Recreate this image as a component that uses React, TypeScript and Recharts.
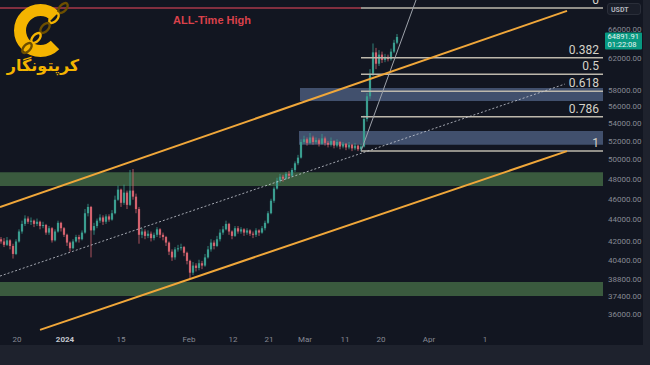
import React from "react";
import {
  ComposedChart,
  Bar,
  XAxis,
  YAxis,
  ReferenceArea,
  ReferenceLine,
  ReferenceDot,
} from "recharts";

// candles: one every 0.75 day, prices in thousands USDT
const START_DAY = -15.875;
const STEP = 0.75;
const FIRST_OPEN = 42.2;

const CLOSES = [
  42.0, 41.7, 42.1, 41.6, 40.9, 42.0, 42.9, 43.6, 44.1, 43.8,
  43.9, 43.6, 43.8, 43.4, 43.5, 42.8, 43.2, 42.1, 42.9, 43.7,
  43.2, 42.6, 41.9, 41.4, 42.0, 42.4, 42.2, 42.8, 44.6, 45.2,
  43.0, 43.4, 43.9, 44.2, 43.8, 44.3, 44.0, 44.6, 45.9, 46.9,
  45.6, 46.6, 45.4, 46.8, 46.2, 45.0, 42.6, 42.9, 42.5, 42.7,
  42.3, 42.6, 43.1, 42.6, 42.4, 41.9, 41.1, 40.6, 41.3, 41.4,
  41.5, 41.0, 40.3, 39.3, 39.9, 39.7, 40.1, 39.9, 40.6, 41.3,
  41.9, 41.6, 42.2, 42.8, 43.1, 43.6, 42.9, 42.5, 43.2, 42.9,
  43.1, 42.8, 43.0, 42.7, 42.6, 43.0, 42.8, 43.2, 43.7, 44.6,
  45.8, 47.0, 47.8, 48.2, 48.0, 48.5, 48.3, 48.9, 49.6, 50.2,
  51.9, 52.2, 51.8, 52.4, 51.9, 52.1, 51.7, 52.3, 51.8, 51.6,
  52.0, 51.5, 51.9, 51.4, 51.7, 51.3, 51.6, 51.2, 51.5, 51.1,
  51.4, 54.5, 57.2, 60.0, 62.8, 61.3, 62.5, 61.8, 62.2, 61.9,
  62.9, 64.1, 64.89191,
];

const HIGHS = [
  42.4, 42.3, 42.4, 42.2, 41.8, 42.2, 43.1, 43.9, 44.4, 44.3,
  44.2, 44.0, 44.1, 43.9, 43.8, 43.6, 43.4, 43.3, 43.1, 43.9,
  43.8, 43.3, 42.7, 42.0, 42.2, 42.6, 42.6, 43.0, 45.0, 45.5,
  45.3, 43.7, 44.1, 44.5, 44.4, 44.5, 44.5, 44.9, 46.3, 47.3,
  47.0, 47.4, 46.8, 48.9, 49.0, 46.5, 45.2, 43.2, 43.1, 43.0,
  42.9, 42.8, 43.3, 43.2, 42.8, 42.5, 42.0, 41.3, 41.5, 41.7,
  41.8, 41.6, 41.1, 40.4, 40.2, 40.1, 40.4, 40.3, 40.9, 41.6,
  42.2, 42.1, 42.5, 43.1, 43.4, 43.9, 43.7, 43.0, 43.4, 43.4,
  43.3, 43.2, 43.2, 43.1, 42.9, 43.2, 43.1, 43.4, 43.9, 44.8,
  46.0, 47.2, 48.1, 48.5, 48.4, 48.7, 48.8, 49.1, 49.8, 50.5,
  52.2, 52.6, 52.4, 52.9, 52.6, 52.4, 52.3, 52.8, 52.5, 52.0,
  52.4, 52.1, 52.2, 52.0, 51.9, 51.8, 51.9, 51.7, 51.8, 51.6,
  51.7, 54.9, 57.6, 60.6, 64.0, 63.4, 63.1, 62.9, 62.6, 62.5,
  63.3, 64.5, 65.3,
];

const LOWS = [
  41.8, 41.5, 41.6, 41.3, 40.5, 40.8, 41.9, 42.7, 43.4, 43.6,
  43.5, 43.3, 43.4, 43.1, 43.2, 42.6, 42.6, 41.9, 42.0, 42.8,
  42.9, 42.4, 41.6, 41.1, 41.3, 41.9, 41.9, 42.1, 42.7, 44.3,
  40.6, 42.6, 43.2, 43.7, 43.5, 43.6, 43.8, 43.9, 44.5, 45.8,
  45.2, 45.4, 45.0, 45.3, 45.9, 44.6, 41.8, 42.3, 42.2, 42.3,
  42.0, 42.1, 42.4, 42.3, 42.1, 41.6, 40.8, 40.3, 40.4, 41.1,
  41.2, 40.7, 40.0, 38.8, 39.1, 39.4, 39.5, 39.6, 39.8, 40.5,
  41.1, 41.3, 41.5, 42.0, 42.6, 43.0, 42.6, 42.2, 42.4, 42.7,
  42.7, 42.5, 42.6, 42.5, 42.3, 42.4, 42.5, 42.7, 43.0, 43.6,
  44.5, 45.6, 46.9, 47.6, 47.7, 47.9, 48.0, 48.2, 48.7, 49.4,
  50.1, 51.7, 51.5, 51.7, 51.6, 51.7, 51.4, 51.6, 51.5, 51.3,
  51.4, 51.2, 51.3, 51.1, 51.2, 51.0, 51.1, 50.9, 51.0, 50.9,
  50.9, 51.3, 54.2, 56.9, 59.7, 60.6, 61.0, 61.4, 61.5, 61.6,
  61.7, 62.7, 63.9,
];

const LAST_PRICE = 64891.91;
const COUNTDOWN = "01:22:08";

const Y_TICKS = [36000, 37400, 38800, 40400, 42000, 44000, 46000, 48000, 50000, 52000, 54000, 56000, 58000, 62000, 66000];
const X_TICKS = [-12, 0, 14, 31, 42, 51, 60, 70, 79, 91, 105];
const X_LABELS = ["20", "2024", "15", "Feb", "12", "21", "Mar", "11", "20", "Apr", "1"];

// fibonacci retracement
const FIB_HIGH = 69000;
const FIB_LOW = 50900;
const FIB_RATIOS = [0, 0.382, 0.5, 0.618, 0.786, 1];
const FIB_FROM = 74;
const FIB_TO = 134.5;

const ATH_FROM = -16.25;

// zones [fromDay, toDay, low, high]
const GREEN_ZONES = [
  [-16.25, 134.5, 47260, 48670],
  [-16.25, 134.5, 37395, 38525],
];
const BLUE_ZONES = [
  [58.75, 134.5, 56617, 58215],
  [58.5, 134.5, 51600, 53130],
];

// channel & trend lines [day, price] pairs
const UPPER_CHANNEL = [[-16.25, 45190], [125.5, 68600]];
const LOWER_CHANNEL = [[-6.25, 34800], [125.5, 50900]];
const MID_CHANNEL = [[-16.25, 39020], [125, 58710]];
const TREND_LINE = [[74, 50900], [87.75, 70200]];

const UP = "#3a9d8f";
const DOWN = "#d4626e";
const BG = "#121621";

const candles = CLOSES.map((c, i) => {
  const open = (i === 0 ? FIRST_OPEN : CLOSES[i - 1]) * 1000;
  const high = HIGHS[i] * 1000;
  const low = LOWS[i] * 1000;
  return {
    day: START_DAY + i * STEP,
    open,
    close: c * 1000,
    high,
    low,
    range: [low, high],
  };
});

const seg = (pts: number[][]) => pts.map(([x, y]) => ({ x, y }));

const Candle = (props: any) => {
  const { x, y, width, height, payload } = props;
  if (x == null || !payload) return null;
  const { open, close, high, low } = payload;
  const top = Math.min(y, y + height);
  const h = Math.abs(height);
  const span = Math.log(high) - Math.log(low) || 1;
  const toY = (v: number) => top + (h * (Math.log(high) - Math.log(v))) / span;
  const color = close >= open ? UP : DOWN;
  const cx = x + width / 2;
  const bodyTop = toY(Math.max(open, close));
  const bodyH = Math.max(1, toY(Math.min(open, close)) - bodyTop);
  return (
    <g>
      <line x1={cx} x2={cx} y1={top} y2={top + h} stroke={color} strokeWidth={0.8} />
      <rect x={cx - 1.1} y={bodyTop} width={2.2} height={bodyH} fill={color} />
    </g>
  );
};

const TimeTick = ({ x, y, payload }: any) => {
  const label = X_LABELS[X_TICKS.indexOf(payload.value)] ?? "";
  const strong = label === "2024";
  return (
    <text
      x={x}
      y={y}
      dy={7}
      textAnchor="middle"
      fontSize={8}
      fontWeight={strong ? 700 : 400}
      fill={strong ? "#c3c6ce" : "#868993"}
    >
      {label}
    </text>
  );
};

const PriceTag = ({ viewBox }: any) => {
  if (!viewBox) return null;
  const x = viewBox.x + viewBox.width;
  const y = viewBox.y;
  return (
    <g>
      <rect x={x} y={y - 4.5} width={37} height={17} rx={1} fill="#089981" />
      <text x={x + 2.5} y={y + 2.5} fontSize={7.5} fill="#e6f4f1">
        {LAST_PRICE.toFixed(2)}
      </text>
      <text x={x + 2.5} y={y + 10.5} fontSize={7.5} fill="#e6f4f1">
        {COUNTDOWN}
      </text>
    </g>
  );
};

export default function App() {
  const fibLevels = FIB_RATIOS.map((r) => ({
    ratio: r,
    price: FIB_HIGH - r * (FIB_HIGH - FIB_LOW),
  }));

  return (
    <div
      style={{
        position: "fixed",
        left: 0,
        top: 0,
        width: 650,
        height: 365,
        background: "#1e222d",
        fontFamily: "Roboto, sans-serif",
        overflow: "hidden",
      }}
    >
      <div style={{ position: "absolute", left: 0, top: 0, width: 643, height: 345, background: BG }}>
        <ComposedChart
          width={643}
          height={345}
          data={candles}
          margin={{ top: 0, right: 0, bottom: 0, left: 0 }}
        >
          <XAxis
            dataKey="day"
            type="number"
            domain={[-16.25, 135]}
            ticks={X_TICKS}
            tick={<TimeTick />}
            height={15}
            axisLine={false}
            tickLine={false}
            tickSize={0}
            tickMargin={5}
            allowDataOverflow
          />
          <YAxis
            orientation="right"
            scale="log"
            domain={[34790, 70200]}
            ticks={Y_TICKS}
            tickFormatter={(v: number) => v.toFixed(2)}
            tick={{ fontSize: 8, fill: "#868993" }}
            width={38}
            axisLine={false}
            tickLine={false}
            tickSize={0}
            tickMargin={3}
            allowDataOverflow
          />

          {GREEN_ZONES.map(([x1, x2, y1, y2], i) => (
            <ReferenceArea key={`g${i}`} x1={x1} x2={x2} y1={y1} y2={y2} fill="#3a5a3e" fillOpacity={1} stroke="none" ifOverflow="visible" />
          ))}
          {BLUE_ZONES.map(([x1, x2, y1, y2], i) => (
            <ReferenceArea key={`b${i}`} x1={x1} x2={x2} y1={y1} y2={y2} fill="#41506d" fillOpacity={1} stroke="none" ifOverflow="visible" />
          ))}

          <Bar dataKey="range" barSize={2} shape={(p: any) => <Candle {...p} />} isAnimationActive={false} />

          <ReferenceLine
            segment={seg([[ATH_FROM, FIB_HIGH], [FIB_FROM, FIB_HIGH]])}
            stroke="#a8394a"
            strokeWidth={1.5}
            ifOverflow="visible"
          />
          <ReferenceDot
            x={36.75}
            y={67275}
            r={0}
            fill="none"
            stroke="none"
            ifOverflow="visible"
            label={{ value: "ALL-Time High", position: "center", fill: "#d9414b", fontSize: 11, fontWeight: 700, fontFamily: "Liberation Sans, Arial" }}
          />

          {fibLevels.map((f) => (
            <ReferenceLine
              key={f.ratio}
              segment={seg([[FIB_FROM, f.price], [FIB_TO, f.price]])}
              stroke="#bdb8ac"
              strokeWidth={1.5}
              ifOverflow="visible"
              label={{ value: String(f.ratio), position: "insideBottomRight", offset: 4, fill: "#d6d3c9", fontSize: 12 }}
            />
          ))}

          <ReferenceLine segment={seg(MID_CHANNEL)} stroke="#c8ccd4" strokeOpacity={0.8} strokeWidth={1} strokeDasharray="2 2" ifOverflow="visible" />
          <ReferenceLine segment={seg(TREND_LINE)} stroke="#9ea3ab" strokeWidth={1} ifOverflow="visible" />
          <ReferenceLine segment={seg(UPPER_CHANNEL)} stroke="#f0a73a" strokeWidth={2} ifOverflow="visible" />
          <ReferenceLine segment={seg(LOWER_CHANNEL)} stroke="#f0a73a" strokeWidth={2} ifOverflow="visible" />

          <ReferenceLine y={LAST_PRICE} stroke="none" ifOverflow="visible" label={(p: any) => <PriceTag {...p} />} />
        </ComposedChart>
      </div>

      {/* currency badge */}
      <div
        style={{
          position: "absolute",
          left: 607,
          top: 3,
          width: 34,
          height: 12,
          background: "#1a1e29",
          border: "1px solid #2a2e39",
          borderRadius: 3,
          color: "#b2b5be",
          fontSize: 7,
          fontWeight: 700,
          lineHeight: "12px",
          paddingLeft: 3,
          boxSizing: "border-box",
        }}
      >
        USDT
      </div>

      {/* logo */}
      <svg width={74} height={60} style={{ position: "absolute", left: 3, top: 0 }}>
        <path d="M 52 16 A 20.5 20.5 0 1 0 52 45" stroke="#f4b400" strokeWidth={12} fill="none" />
        {[[60, 8], [51, 18], [42, 28], [33, 38], [24, 48]].map(([cx, cy], i) => (
          <ellipse
            key={i}
            cx={cx}
            cy={cy}
            rx={6}
            ry={3.3}
            transform={`rotate(-48 ${cx} ${cy})`}
            fill="none"
            stroke={i % 2 ? "#f4b400" : "#6b4e00"}
            strokeWidth={2.4}
          />
        ))}
      </svg>
      <div
        style={{
          position: "absolute",
          left: 4,
          top: 58,
          width: 78,
          textAlign: "center",
          color: "#f4b400",
          fontFamily: "DejaVu Sans",
          fontWeight: 700,
          fontSize: 16,
          lineHeight: 1,
          direction: "rtl",
        }}
      >
        کرپتونگار
      </div>
    </div>
  );
}
